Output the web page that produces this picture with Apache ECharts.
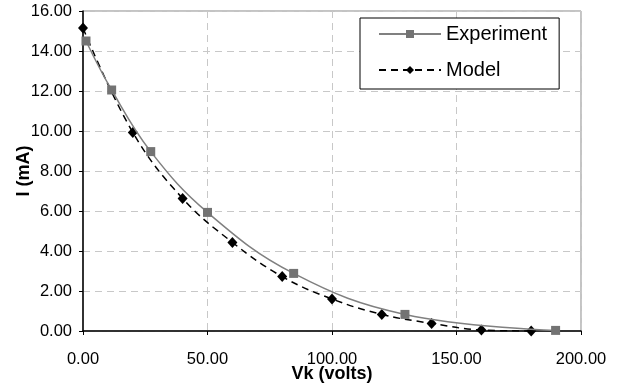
<!DOCTYPE html>
<html>
<head>
<meta charset="utf-8">
<script src="https://cdn.jsdelivr.net/npm/echarts@6/dist/echarts.min.js"></script>
<style>
  html, body { margin: 0; padding: 0; background: #fff; }
  #chart { width: 623px; height: 390px; }
</style>
</head>
<body>
<div id="chart"></div>
<script>
// measured points (Vk in volts, I in mA)
const expVk = [1.2, 11.5, 27.2, 50.0, 84.6, 129.3, 189.8]
const expI = [14.5, 12.05, 8.97, 5.93, 2.88, 0.83, 0.03]

const modelVk = [0, 20, 40, 60, 80, 100, 120, 140, 160, 180]
const modelI = [15.15, 9.93, 6.63, 4.43, 2.72, 1.6, 0.83, 0.38, 0.05, 0.0]

const seriesNames = ['Experiment', 'Model']

const zip = (xs, ys) => xs.map((x, i) => [x, ys[i]])
const font = 'Liberation Sans, Arial, sans-serif'

const chart = echarts.init(document.getElementById('chart'))
chart.setOption({
  animation: false,
  grid: {
    left: 83,
    right: 42,
    top: 11,
    bottom: 59,
    outerBoundsMode: 'none',
    containLabel: false,
    show: true,
    borderColor: '#888',
    borderWidth: 1
  },
  legend: {
    orient: 'vertical',
    left: 360,
    top: 18,
    data: seriesNames,
    itemWidth: 62,
    itemHeight: 10,
    itemGap: 16,
    padding: [6, 12, 9, 18],
    backgroundColor: '#fff',
    borderColor: '#000',
    borderWidth: 1,
    borderRadius: 0,
    textStyle: { fontFamily: font, fontSize: 20, color: '#000' }
  },
  xAxis: {
    type: 'value',
    min: 0,
    max: 200,
    interval: 50,
    name: 'Vk (volts)',
    nameLocation: 'middle',
    nameGap: 34,
    nameMoveOverlap: false,
    nameTextStyle: { fontFamily: font, fontSize: 18, fontWeight: 'bold', color: '#000' },
    axisLine: { lineStyle: { color: '#000', width: 1.5 } },
    axisTick: { show: true, length: 4, lineStyle: { color: '#000' } },
    axisLabel: {
      margin: 20,
      fontFamily: font,
      fontSize: 16.5,
      color: '#000',
      formatter: v => v.toFixed(2)
    },
    splitLine: { show: true, lineStyle: { color: '#c8c8c8', type: [7, 5] } }
  },
  yAxis: {
    type: 'value',
    min: 0,
    max: 16,
    interval: 2,
    name: 'I (mA)',
    nameLocation: 'middle',
    nameGap: 50,
    nameMoveOverlap: false,
    nameTextStyle: { fontFamily: font, fontSize: 18, fontWeight: 'bold', color: '#000' },
    axisLine: { show: true, lineStyle: { color: '#000', width: 1.5 } },
    axisTick: { show: true, length: 4, lineStyle: { color: '#000' } },
    axisLabel: {
      margin: 11,
      fontFamily: font,
      fontSize: 16.5,
      color: '#000',
      formatter: v => v.toFixed(2)
    },
    splitLine: { show: true, lineStyle: { color: '#c8c8c8', type: [7, 5] } }
  },
  series: [
    {
      name: seriesNames[0],
      type: 'line',
      smooth: 0.4,
      data: zip(expVk, expI),
      symbol: 'rect',
      symbolSize: 9,
      lineStyle: { color: '#808080', width: 1.5 },
      itemStyle: { color: '#737373' },
      z: 3
    },
    {
      name: seriesNames[1],
      type: 'line',
      smooth: 0.4,
      data: zip(modelVk, modelI),
      symbol: 'diamond',
      symbolSize: [10, 11],
      lineStyle: { color: '#000', width: 1.5, type: [7, 5] },
      itemStyle: { color: '#000' },
      z: 2
    }
  ]
})
</script>
</body>
</html>
